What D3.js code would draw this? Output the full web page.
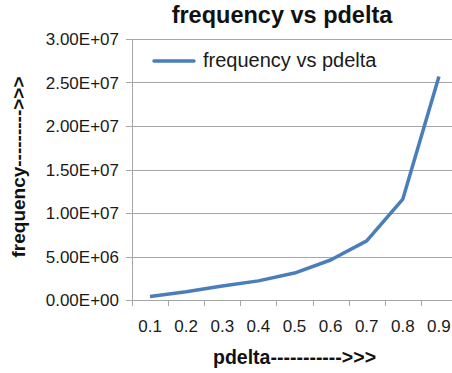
<!DOCTYPE html>
<html>
<head>
<meta charset="utf-8">
<script src="https://cdn.jsdelivr.net/npm/d3@7"></script>
<style>
  body { margin: 0; background: #fff; }
  svg { display: block; font-family: "Liberation Sans", Arial, sans-serif; }
</style>
</head>
<body>
<div class="svg-div"></div>
<script>
const categories = ["0.1", "0.2", "0.3", "0.4", "0.5", "0.6", "0.7", "0.8", "0.9"];
const frequency = [4.0e5, 9.5e5, 1.6e6, 2.2e6, 3.1e6, 4.6e6, 6.8e6, 1.16e7, 2.57e7];
const yTicks = [0, 5e6, 1e7, 1.5e7, 2e7, 2.5e7, 3e7];
const yTickLabels = ["0.00E+00", "5.00E+06", "1.00E+07", "1.50E+07", "2.00E+07", "2.50E+07", "3.00E+07"];

var width = 452, height = 373;
var margin = { top: 39, left: 132, bottom: 73 };
var plotW = 325;

var svg = d3.select(".svg-div")
  .append("svg")
    .attr("width", width)
    .attr("height", height);

var x = d3.scaleBand()
  .domain(categories)
  .range([margin.left, margin.left + plotW]);

var y = d3.scaleLinear()
  .domain([0, 3e7])
  .range([height - margin.bottom, margin.top]);

// gridlines
svg.append("g")
  .selectAll("line")
  .data(yTicks)
  .enter()
  .append("line")
    .attr("x1", margin.left - 6)
    .attr("x2", width)
    .attr("y1", d => Math.round(y(d)) + 0.5)
    .attr("y2", d => Math.round(y(d)) + 0.5)
    .attr("stroke", "#a6a6a6")
    .attr("stroke-width", 1);

// y axis line
svg.append("line")
  .attr("x1", margin.left + 0.5)
  .attr("x2", margin.left + 0.5)
  .attr("y1", y(3e7))
  .attr("y2", y(0))
  .attr("stroke", "#a6a6a6");

// x tick marks between categories
svg.append("g")
  .selectAll("line")
  .data(categories)
  .enter()
  .append("line")
    .attr("x1", d => Math.round(x(d)) + 0.5)
    .attr("x2", d => Math.round(x(d)) + 0.5)
    .attr("y1", y(0))
    .attr("y2", y(0) + 6)
    .attr("stroke", "#a6a6a6");

// y tick labels
svg.append("g")
  .selectAll("text")
  .data(yTicks)
  .enter()
  .append("text")
    .attr("x", 119)
    .attr("y", d => y(d))
    .attr("dy", "0.36em")
    .attr("text-anchor", "end")
    .style("font-size", "17px")
    .style("fill", "#1a1a1a")
    .text((d, i) => yTickLabels[i]);

// x tick labels
svg.append("g")
  .selectAll("text")
  .data(categories)
  .enter()
  .append("text")
    .attr("x", d => x(d) + x.bandwidth() / 2)
    .attr("y", 332)
    .attr("text-anchor", "middle")
    .style("font-size", "17px")
    .style("fill", "#1a1a1a")
    .text(d => d);

// the line
var line = d3.line()
  .x((d, i) => x(categories[i]) + x.bandwidth() / 2)
  .y(d => y(d));

svg.append("path")
  .datum(frequency)
  .attr("d", line)
  .attr("fill", "none")
  .attr("stroke", "#4a7ebb")
  .attr("stroke-width", 3.5)
  .attr("stroke-linejoin", "round");

// legend
svg.append("line")
  .attr("x1", 154)
  .attr("x2", 194)
  .attr("y1", 61)
  .attr("y2", 61)
  .attr("stroke", "#4a7ebb")
  .attr("stroke-width", 3.5)
  .attr("stroke-linecap", "round");

svg.append("text")
  .attr("x", 203)
  .attr("y", 67)
  .style("font-size", "20px")
  .style("fill", "#1a1a1a")
  .text("frequency vs pdelta");

// title
svg.append("text")
  .attr("x", 282)
  .attr("y", 23)
  .attr("text-anchor", "middle")
  .style("font-size", "23.5px")
  .style("font-weight", "bold")
  .style("fill", "#111")
  .text("frequency vs pdelta");

// axis titles
svg.append("text")
  .attr("x", 213)
  .attr("y", 364)
  .style("font-size", "19.5px")
  .style("font-weight", "bold")
  .style("fill", "#111")
  .text("pdelta----------->>>");

svg.append("text")
  .attr("transform", "translate(25,167) rotate(-90)")
  .attr("text-anchor", "middle")
  .style("font-size", "19px")
  .style("font-weight", "bold")
  .style("fill", "#111")
  .text("frequency--------->>>");
</script>
</body>
</html>
